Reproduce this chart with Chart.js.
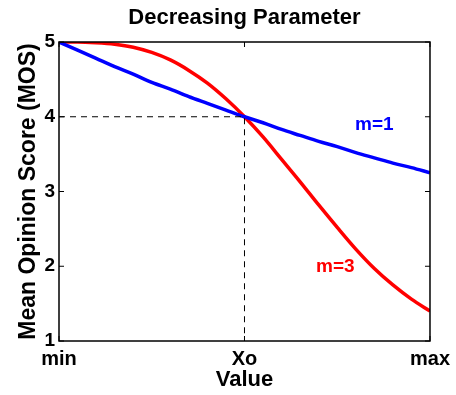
<!DOCTYPE html>
<html>
<head>
<meta charset="utf-8">
<script src="https://cdn.jsdelivr.net/npm/chart.js@4/dist/chart.umd.min.js"></script>
<style>
  html, body { margin: 0; padding: 0; background: #fff; }
  #wrap { width: 456px; height: 395px; }
</style>
</head>
<body>
<div id="wrap"><canvas id="mosChart"></canvas></div>
<script>
// x runs from min (0) through Xo (1) to max (2)
const xValues = [0, 0.1, 0.2, 0.3, 0.4, 0.5, 0.6, 0.7, 0.8, 0.9, 1.0,
                 1.1, 1.2, 1.3, 1.4, 1.5, 1.6, 1.7, 1.8, 1.9, 2.0];
const mosM1 = [5.00, 4.89, 4.78, 4.67, 4.57, 4.46, 4.37, 4.27, 4.18, 4.09, 4.00,
               3.92, 3.83, 3.75, 3.67, 3.60, 3.52, 3.45, 3.38, 3.32, 3.25];
const mosM3 = [5.00, 5.00, 4.99, 4.97, 4.93, 4.86, 4.76, 4.62, 4.45, 4.24, 4.00,
               3.73, 3.43, 3.13, 2.82, 2.52, 2.23, 1.97, 1.75, 1.56, 1.40];
const xTickLabels = ['min', 'Xo', 'max'];
const yTickValues = [1, 2, 3, 4, 5];
// dashed guide from the y axis to (Xo, 4) and down to the x axis
const guideX = [0, 1, 1];
const guideY = [4, 4, 1];

const FONT = "'Liberation Sans', Arial, Helvetica, sans-serif";

const toPoints = (xs, ys) => xs.map((x, i) => ({ x: x, y: ys[i] }));

// box, inward ticks, title and curve labels (MATLAB look)
const matlabFrame = {
    id: 'matlabFrame',
    afterDatasetsDraw(chart) {
        const { ctx, chartArea: a, scales } = chart;
        ctx.save();
        ctx.strokeStyle = '#000';
        ctx.lineWidth = 1.5;
        ctx.strokeRect(a.left, a.top, a.right - a.left, a.bottom - a.top);

        ctx.lineWidth = 1;
        ctx.beginPath();
        yTickValues.forEach(v => {
            const py = scales.y.getPixelForValue(v);
            ctx.moveTo(a.left, py); ctx.lineTo(a.left + 5, py);
            ctx.moveTo(a.right, py); ctx.lineTo(a.right - 5, py);
        });
        [0, 1, 2].forEach(v => {
            const px = scales.x.getPixelForValue(v);
            ctx.moveTo(px, a.top); ctx.lineTo(px, a.top + 5);
            ctx.moveTo(px, a.bottom); ctx.lineTo(px, a.bottom - 5);
        });
        ctx.stroke();

        ctx.fillStyle = '#000';
        ctx.font = 'bold 22px ' + FONT;
        ctx.textAlign = 'center';
        ctx.textBaseline = 'middle';
        ctx.fillText('Decreasing Parameter', (a.left + a.right) / 2, 18);

        ctx.font = 'bold 19px ' + FONT;
        ctx.fillStyle = '#0000ff';
        ctx.fillText('m=1', scales.x.getPixelForValue(1.70), scales.y.getPixelForValue(3.89));
        ctx.fillStyle = '#ff0000';
        ctx.fillText('m=3', scales.x.getPixelForValue(1.49), scales.y.getPixelForValue(1.99));
        ctx.restore();
    }
};

new Chart(document.getElementById('mosChart'), {
    type: 'line',
    data: {
        datasets: [
            {
                label: 'guide',
                data: toPoints(guideX, guideY),
                borderColor: '#000',
                borderWidth: 1,
                borderDash: [6, 5],
                pointRadius: 0,
                fill: false
            },
            {
                label: 'm=1',
                data: toPoints(xValues, mosM1),
                borderColor: '#0000ff',
                borderWidth: 3.5,
                pointRadius: 0,
                cubicInterpolationMode: 'monotone',
                fill: false
            },
            {
                label: 'm=3',
                data: toPoints(xValues, mosM3),
                borderColor: '#ff0000',
                borderWidth: 3.5,
                pointRadius: 0,
                cubicInterpolationMode: 'monotone',
                fill: false
            }
        ]
    },
    options: {
        responsive: true,
        maintainAspectRatio: false,
        animation: false,
        layout: { padding: { top: 42, right: 25, left: 0, bottom: 0 } },
        plugins: {
            legend: { display: false },
            title: { display: false },
            tooltip: { enabled: false }
        },
        scales: {
            x: {
                type: 'linear',
                min: 0,
                max: 2,
                grid: { display: false, drawTicks: false },
                border: { display: false },
                ticks: {
                    stepSize: 1,
                    autoSkip: false,
                    maxRotation: 0,
                    padding: 6,
                    color: '#000',
                    font: { family: FONT, size: 20, weight: 'bold' },
                    callback: (value, index) => xTickLabels[index]
                },
                title: {
                    display: true,
                    text: 'Value',
                    color: '#000',
                    padding: { top: 0, bottom: 2 },
                    font: { family: FONT, size: 22, weight: 'bold' }
                },
                afterFit: (scale) => { scale.height = 54; }
            },
            y: {
                min: 1,
                max: 5,
                grid: { display: false, drawTicks: false },
                border: { display: false },
                ticks: {
                    stepSize: 1,
                    padding: 4,
                    color: '#000',
                    font: { family: FONT, size: 19, weight: 'bold' }
                },
                title: {
                    display: true,
                    text: 'Mean Opinion Score (MOS)',
                    color: '#000',
                    padding: { top: 15, bottom: 0 },
                    font: { family: FONT, size: 23, weight: 'bold' }
                },
                afterFit: (scale) => { scale.width = 59; }
            }
        }
    },
    plugins: [matlabFrame]
});
</script>
</body>
</html>
